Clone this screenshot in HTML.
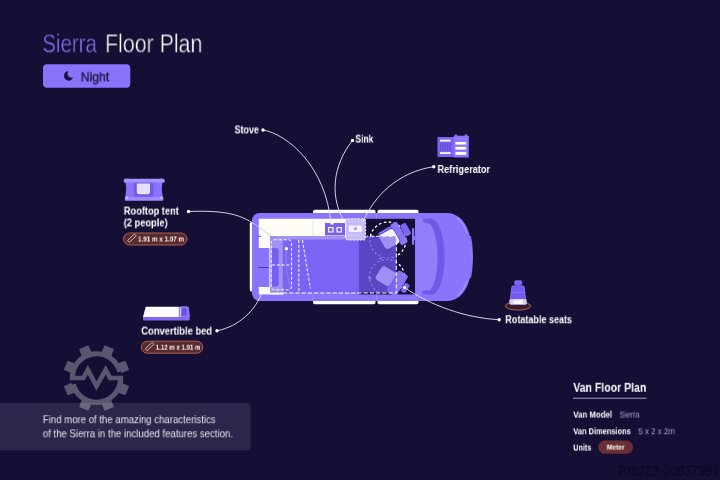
<!DOCTYPE html>
<html>
<head>
<meta charset="utf-8">
<style>
html,body{margin:0;padding:0;}
body{width:720px;height:480px;background:#150f36;overflow:hidden;position:relative;font-family:"Liberation Sans",sans-serif;color:#fff;}
.t{position:absolute;white-space:nowrap;line-height:1;transform-origin:0 0;will-change:transform;}
#art{position:absolute;left:0;top:0;}
</style>
</head>
<body>
<svg id="art" width="720" height="480" viewBox="0 0 720 480">
<g id="gear"><path d="M121.57 382.65 L129.20 386.15 L125.39 395.36 L117.52 392.44Z M110.94 399.02 L113.86 406.89 L104.65 410.70 L101.15 403.07Z M91.85 403.07 L88.35 410.70 L79.14 406.89 L82.06 399.02Z M75.48 392.44 L67.61 395.36 L63.80 386.15 L71.43 382.65Z M71.43 373.35 L63.80 369.85 L67.61 360.64 L75.48 363.56Z M82.06 356.98 L79.14 349.11 L88.35 345.30 L91.85 352.93Z M101.15 352.93 L104.65 345.30 L113.86 349.11 L110.94 356.98Z M117.52 363.56 L125.39 360.64 L129.20 369.85 L121.57 373.35Z" fill="#5a566f"/><path d="M120.61 375.89 A24.20 24.20 0 0 1 73.12 384.26 M72.39 380.11 A24.20 24.20 0 0 1 119.88 371.74" fill="none" stroke="#5a566f" stroke-width="5.2"/><path d="M70.500 378H83.300L87.800 369.800L96.500 386L105.700 369.800L110.200 378H122.500" fill="none" stroke="#5a566f" stroke-width="4.600" stroke-linejoin="miter" stroke-miterlimit="6"/></g>
<path d="M0 403H247a3.500 3.500 0 0 1 3.500 3.500V447a3.500 3.500 0 0 1-3.500 3.500H0z" fill="#ffffff" fill-opacity="0.100"/>
<!-- night button -->
<rect x="43" y="64.300" width="87.300" height="23.400" rx="4" fill="#8873fa"/>
<path d="M68.400 71.200a4.700 4.700 0 1 0 4.700 6.300a4.100 4.100 0 0 1-4.700-6.300z" fill="#1b1440"/>
<g id="van">
<!-- door strips -->
<path d="M313 213.200V211.500a1.700 1.700 0 0 1 1.700-1.700H373.800a1.700 1.700 0 0 1 1.700 1.700V213.200z" fill="#ffffff"/>
<path d="M377.500 213.200V211.500a1.700 1.700 0 0 1 1.700-1.700H416.800a1.700 1.700 0 0 1 1.700 1.700V213.200z" fill="#ffffff"/>
<path d="M313 300.800V302.500a1.700 1.700 0 0 0 1.700 1.700H373.800a1.700 1.700 0 0 0 1.700-1.700V300.800z" fill="#ffffff"/>
<path d="M377.500 300.800V302.500a1.700 1.700 0 0 0 1.700 1.700H416.800a1.700 1.700 0 0 0 1.700-1.700V300.800z" fill="#ffffff"/>
<!-- rear bumper -->
<rect x="249.800" y="222" width="3.500" height="69.500" rx="1.500" fill="#ffffff"/>
<!-- body -->
<path d="M259.500 213H448C462 214 472 228 472.500 257C472 286 462 300 448 301H259.500A7.500 7.500 0 0 1 252 293.500V220.500A7.500 7.500 0 0 1 259.500 213z" fill="#8a74fc"/>
<!-- front highlights -->
<path d="M470.500 236C472 243 472.300 250 472.300 257C472.300 264 472 271 470.500 278" fill="none" stroke="#a594ff" stroke-width="0.800"/>
<path d="M457.500 218.500C462 222 465 227 466.500 233" fill="none" stroke="#a996ff" stroke-width="1.200" stroke-linecap="round"/>
<path d="M457.500 295.500C462 292 465 287 466.500 281" fill="none" stroke="#a996ff" stroke-width="1.200" stroke-linecap="round"/>
<path d="M418 219H430C436 224 440 240 440 257C440 274 436 290 430 294.500H418A2.500 2.500 0 0 1 415.500 292V221.500A2.500 2.500 0 0 1 418 219z" fill="#927dfa"/>
<!-- windshield band -->
<path d="M423 218.800H432C440 222 444.500 238 444.500 257C444.500 276 440 291 433.500 294.500H422.500V290.500H429.500C434 288 437.500 274 437.500 257C437.500 240 434 226 429 223.500L423 222z" fill="#7258e6"/>
<!-- dark floor -->
<rect x="359" y="218.800" width="56" height="75.600" fill="#150f36"/>
<rect x="359" y="236" width="37.300" height="56.700" fill="#2a1b6e"/>
<!-- steering -->
<rect x="412" y="228" width="2.200" height="17" rx="1" fill="#8a74fc"/>
<rect x="413.500" y="236" width="3" height="4" fill="#8a74fc"/>
<!-- counter -->
<path d="M258.800 218.800H346V239.500H270V248H258.800z" fill="#fdfcf7"/>
<path d="M313 219V236" stroke="#dcd8e6" stroke-width="0.600"/>
<!-- bottom-left white -->
<rect x="258.800" y="287" width="24.500" height="7.400" fill="#fdfcf7"/>
<!-- rear door lines -->
<path d="M258 267.500H270M258 236.300H261" stroke="#2a2060" stroke-width="0.700"/>
<!-- door seams -->
<path d="M313 294.500V301M376.500 294.500V301M376.500 213V218.500" stroke="#a493ff" stroke-width="0.600"/>
<!-- stove -->
<path d="M325 223H330.500V224.500H333.500V223H345V235.500H325z" fill="#7a60ee"/>
<rect x="328.600" y="227.600" width="4.400" height="4.400" fill="none" stroke="#fff" stroke-width="1.100"/>
<rect x="337" y="227.600" width="4.400" height="4.400" fill="none" stroke="#fff" stroke-width="1.100"/>
<!-- rotation circles -->
<defs>
<clipPath id="cOut"><path d="M359 218.800H415V294.400H396.300V236H359z"/></clipPath>
<clipPath id="cIn"><rect x="359" y="236" width="37.300" height="57"/></clipPath>
</defs>
<g fill="none" stroke="#ffffff" stroke-width="1.300" stroke-dasharray="2.600 2.400" clip-path="url(#cOut)">
<circle cx="388" cy="240" r="18"/>
<circle cx="387" cy="277" r="17.500"/>
</g>
<g fill="none" stroke="#ffffff" stroke-opacity="0.700" stroke-width="1.200" stroke-dasharray="2 2.500" clip-path="url(#cIn)">
<circle cx="388" cy="240" r="18"/>
<circle cx="387" cy="277" r="17.500"/>
</g>
<path d="M369.600 280.500L368 277L371.800 277.600z" fill="#ffffff" fill-opacity="0.750"/>
<path d="M381 256.500L378.500 258.800L382 259.800z" fill="#ffffff" fill-opacity="0.700"/>
<!-- seats -->
<g transform="translate(389.800 238.800) rotate(-30) scale(1.08)">
<rect x="-7" y="-10" width="13" height="3.500" rx="1.500" fill="#8a74fc"/>
<rect x="6" y="-11" width="7.500" height="22" rx="2.500" fill="#8a74fc"/>
<rect x="14" y="-6" width="6" height="12" rx="2" fill="#7c64f0"/>
<rect x="-9.300" y="-8.500" width="17" height="17" rx="3.500" fill="#1c1258" fill-opacity="0.350"/>
<rect x="-8" y="-7.500" width="15" height="15" rx="3" fill="#f6f3ff"/>
</g>
<g transform="translate(386 276.300) rotate(32) scale(1.06)">
<rect x="7" y="-11.500" width="11" height="23" rx="2.500" fill="#8a74fc"/>
<rect x="18.600" y="-5" width="5.200" height="9.500" rx="1.800" fill="#8068f2"/>
<rect x="-9.300" y="-8.500" width="17.500" height="17" rx="3.500" fill="#1c1258" fill-opacity="0.350"/>
<rect x="-8" y="-7.500" width="15.500" height="15" rx="3" fill="#f3efff"/>
</g>
<!-- pillows under overlay -->
<rect x="269.300" y="236" width="13.400" height="58.400" fill="#fdfcf7"/>
<path d="M272 248H275.700a3 3 0 0 1 3 3V283.700a3 3 0 0 1-3 3H272z" fill="#7a62f2"/>
<path d="M286.400 249.500C285.500 262 287 278 291 288.500" fill="none" stroke="#d9d2ff" stroke-width="0.800"/>
<!-- rooftop leader inside van -->
<path d="M252 222.500C263 229 275 240 286.400 248.700" fill="none" stroke="#cfc8ea" stroke-width="0.900"/>
<!-- bed overlay -->
<rect x="270" y="236" width="126.300" height="56.700" fill="#745cf0" fill-opacity="0.660"/>
<!-- sink -->
<rect x="345.600" y="218.800" width="20" height="21.200" rx="2" fill="#c6baf7" stroke="#ffffff" stroke-width="1" stroke-dasharray="2 1.400"/>
<rect x="348.800" y="225.600" width="13.200" height="6.400" rx="1" fill="#f4f1ff"/>
<circle cx="355.400" cy="228.600" r="1.700" fill="#a99bf0"/>
<path d="M349 221.800H362M349 235.600H362" stroke="#e6e0ff" stroke-width="0.800" stroke-dasharray="1.200 1.200"/>
<!-- dashed outlines -->
<g fill="none" stroke="#ffffff" stroke-width="1" stroke-dasharray="3 1.800">
<rect x="271.200" y="239.800" width="20.300" height="50" rx="3"/>
<path d="M272 265H291.500"/>
<path d="M298.800 240V292.500"/>
<path d="M302.400 240L310.400 288.500"/>
<path d="M283 293H396.300V236.200H366.500" stroke-dasharray="4.200 2"/>
</g>
<circle cx="286.400" cy="248.700" r="1.600" fill="#fff"/>
<circle cx="404.500" cy="287.500" r="1.600" fill="#fff"/>
</g>

<!-- leader lines -->
<g fill="none" stroke="#e9e6f5" stroke-width="0.900">
<path d="M263 130C287 134 326 166 331 224"/>
<path d="M352.500 140.400C333 165 328 198 347 226"/>
<path d="M433.800 166.700C398 172 374 196 363 222"/>
<path d="M188.500 211.500C225 210 240 215 252 222.500"/>
<path d="M217 330.800C240 326 255 310 262 293"/>
<path d="M499.200 319.700C465 318 430 305 404.500 287.500"/>
</g>
<g fill="#fff">
<circle cx="263" cy="130" r="1.700"/>
<circle cx="352.500" cy="140.400" r="1.700"/>
<circle cx="433.800" cy="166.700" r="1.700"/>
<circle cx="188.500" cy="211.500" r="1.700"/>
<circle cx="217" cy="330.800" r="1.700"/>
<circle cx="499.200" cy="319.700" r="1.700"/>
</g>
<!-- tent icon -->
<g id="tent">
<path d="M125.400 182H162.600C161.600 187 161.600 192 163 197H125C126.400 192 126.400 187 125.400 182z" fill="#8b72fa"/>
<rect x="133.800" y="182" width="19.600" height="15" fill="#7359e8"/>
<path d="M136.800 183.500H150V192a2.200 2.200 0 0 1-2.200 2.200H139a2.200 2.200 0 0 1-2.200-2.200z" fill="#e6dfff"/>
<path d="M123.800 179.500C125 178.300 127 178.300 128.500 178.800H159.800C161.300 178.300 163.300 178.300 164.600 179.500V182.600H123.800z" fill="#a693ff"/>
<rect x="124.800" y="196.700" width="38.600" height="4" rx="1.200" fill="#9f8bff"/>
<rect x="126" y="197.300" width="2" height="1" fill="#fff"/><rect x="160.400" y="197.300" width="2" height="1" fill="#fff"/>
</g>
<!-- bed icon -->
<g id="bedicon">
<path d="M145.400 307H189L189.600 317H143z" fill="#8b72fa"/>
<path d="M146 306.800H178.800V317.200H143z" fill="#fdfbff"/>
<path d="M180.400 306.800V317" stroke="#fff" stroke-width="0.800"/>
<path d="M180.800 306.300H186.800C187.800 306.300 188.300 307 188.500 308L189.700 317H180.800z" fill="#8b72fa"/>
<rect x="182" y="308.400" width="4.600" height="7" rx="0.800" fill="#6a50dc"/>
<rect x="143" y="317" width="46.700" height="3.400" rx="0.800" fill="#8268f0"/>
</g>
<!-- fridge icon -->
<g id="fridge">
<rect x="437.500" y="137" width="16.500" height="20" fill="#7d63f2"/>
<rect x="440" y="139.700" width="10.600" height="1.800" fill="#fff"/>
<rect x="440" y="152.200" width="10.600" height="1.800" fill="#fff"/>
<path d="M440.600 143V151M442.300 143V151M444 143V151M445.700 143V151M447.400 143V151M449.100 143V151M450.600 143V151" stroke="#5f47d0" stroke-width="0.700"/>
<path d="M453.800 135.800H454.800V134.500H457.200V135.800H464.800V134.500H467.200V135.800H468.800V157.500H453.800z" fill="#8b72fa"/>
<path d="M454.300 138.800H468.300" stroke="#a996ff" stroke-width="0.700"/>
<rect x="455.400" y="141.900" width="10.800" height="2.700" fill="#fff"/>
<rect x="455.400" y="146.900" width="10.800" height="2.700" fill="#fff"/>
<rect x="455.400" y="151.900" width="10.800" height="3" fill="#fff"/>
</g>
<!-- seat icon -->
<g id="seaticon">
<ellipse cx="518" cy="306" rx="12.700" ry="4.100" fill="#3a1c2e" stroke="#c47a52" stroke-width="0.800"/>
<rect x="514.200" y="280.200" width="8" height="4.800" rx="1.800" fill="#7d63f6"/>
<path d="M513.600 285.700H522.400a1.800 1.800 0 0 1 1.800 1.500L525.600 299.500H510.400L511.800 287.200a1.800 1.800 0 0 1 1.800-1.500z" fill="#7459f2" stroke="#9c89ff" stroke-width="0.700"/>
<path d="M511.200 292.500H524.800" stroke="#9a86ff" stroke-width="0.600"/>
<rect x="509.300" y="299" width="17.500" height="5.800" rx="1.800" fill="#d5ccff"/>
<rect x="513.400" y="300.200" width="9.600" height="3.800" fill="#fbf9ff"/>
</g>
<!-- pills -->
<rect x="123.500" y="233" width="63.500" height="12" rx="6" fill="#592a2e" stroke="#aa604c" stroke-width="1"/>
<rect x="141.300" y="341.200" width="61.500" height="12" rx="6" fill="#592a2e" stroke="#aa604c" stroke-width="1"/>
<g fill="none" stroke="#f4e8e8" stroke-width="0.700">
<rect x="-4.800" y="-1.300" width="9.600" height="2.600" rx="0.500" transform="translate(131.900 238.200) rotate(-43)"/>
<rect x="-4.800" y="-1.300" width="9.600" height="2.600" rx="0.500" transform="translate(149.700 346.400) rotate(-43)"/>
</g>
<rect x="598.300" y="440.500" width="34.700" height="13.300" rx="6.600" fill="#6a2f33"/>

<!-- underline -->
<rect x="573" y="397.600" width="73.500" height="1.400" fill="#7a759e"/>
</svg>
<div class="t" id="title1" style="left:42px;top:31px;font-size:25.5px;font-weight:normal;color:#8a74f0;-webkit-text-stroke:0.45px #150f36;transform:translate(0.30px,0.40px) scaleX(0.8026);">Sierra</div>
<div class="t" id="title2" style="left:105px;top:31px;font-size:25.5px;font-weight:normal;color:#fff;-webkit-text-stroke:0.45px #150f36;transform:translate(0.00px,0.40px) scaleX(0.8380);">Floor Plan</div>
<div class="t" id="night" style="left:80px;top:70px;font-size:13px;font-weight:normal;color:#1b1440;-webkit-text-stroke:0.35px #1b1440;transform:translate(0.70px,0.30px) scaleX(0.9388);">Night</div>
<div class="t" id="stove" style="left:234px;top:124px;font-size:10.8px;font-weight:bold;color:#fff;transform:translate(0.60px,0.40px) scaleX(0.8230);">Stove</div>
<div class="t" id="sink" style="left:355px;top:133px;font-size:10.8px;font-weight:bold;color:#fff;transform:translate(0.40px,0.60px) scaleX(0.7847);">Sink</div>
<div class="t" id="fridge" style="left:437px;top:164px;font-size:10.8px;font-weight:bold;color:#fff;transform:translate(0.50px,0.00px) scaleX(0.8493);">Refrigerator</div>
<div class="t" id="roof1" style="left:123px;top:205px;font-size:10.8px;font-weight:bold;color:#fff;transform:translate(0.80px,0.60px) scaleX(0.8571);">Rooftop tent</div>
<div class="t" id="roof2" style="left:123px;top:217px;font-size:10.8px;font-weight:bold;color:#fff;transform:translate(0.80px,0.40px) scaleX(0.8569);">(2 people)</div>
<div class="t" id="bed" style="left:141px;top:325px;font-size:10.8px;font-weight:bold;color:#fff;transform:translate(0.30px,0.60px) scaleX(0.8665);">Convertible bed</div>
<div class="t" id="seats" style="left:505px;top:314px;font-size:10.8px;font-weight:bold;color:#fff;transform:translate(0.30px,0.20px) scaleX(0.8357);">Rotatable seats</div>
<div class="t" id="p1" style="left:138px;top:235px;font-size:8.1px;font-weight:bold;color:#fff;transform:translate(0.00px,0.50px) scaleX(0.7743);">1.91 m x 1.07 m</div>
<div class="t" id="p2" style="left:155px;top:343px;font-size:8.1px;font-weight:bold;color:#fff;transform:translate(0.80px,0.70px) scaleX(0.7491);">1.12 m x 1.91 m</div>
<div class="t" id="f1" style="left:42px;top:415px;font-size:10.2px;font-weight:normal;color:#e6e2f4;transform:translate(0.80px,0.20px) scaleX(0.9419);">Find more of the amazing characteristics</div>
<div class="t" id="f2" style="left:42px;top:429px;font-size:10.2px;font-weight:normal;color:#e6e2f4;transform:translate(0.80px,0.30px) scaleX(0.9434);">of the Sierra in the included features section.</div>
<div class="t" id="vfp" style="left:573px;top:381px;font-size:12.3px;font-weight:bold;color:#fff;transform:translate(0.30px,0.80px) scaleX(0.8546);">Van Floor Plan</div>
<div class="t" id="vm" style="left:573px;top:410px;font-size:9px;font-weight:bold;color:#fff;transform:translate(0.30px,0.60px) scaleX(0.8694);">Van Model</div>
<div class="t" id="vms" style="left:619px;top:410px;font-size:9px;font-weight:normal;color:#aaa4c6;transform:translate(0.50px,0.60px) scaleX(0.8328);">Sierra</div>
<div class="t" id="vd" style="left:573px;top:427px;font-size:9px;font-weight:bold;color:#fff;transform:translate(0.30px,0.30px) scaleX(0.8270);">Van Dimensions</div>
<div class="t" id="vds" style="left:638px;top:427px;font-size:9px;font-weight:normal;color:#aaa4c6;transform:translate(0.30px,0.30px) scaleX(0.8840);">5 x 2 x 2m</div>
<div class="t" id="un" style="left:573px;top:443px;font-size:9px;font-weight:bold;color:#fff;transform:translate(0.30px,0.60px) scaleX(0.8000);">Units</div>
<div class="t" id="me" style="left:606px;top:444px;font-size:6.8px;font-weight:bold;color:#fff;transform:translate(0.80px,0.60px) scaleX(0.9812);">Meter</div>
<div class="t" id="wm" style="left:617px;top:462px;font-size:15.5px;font-weight:normal;color:#0a071e;transform:translate(0.00px,0.60px) scaleX(0.8144);">209222-20837997</div>
</body>
</html>
